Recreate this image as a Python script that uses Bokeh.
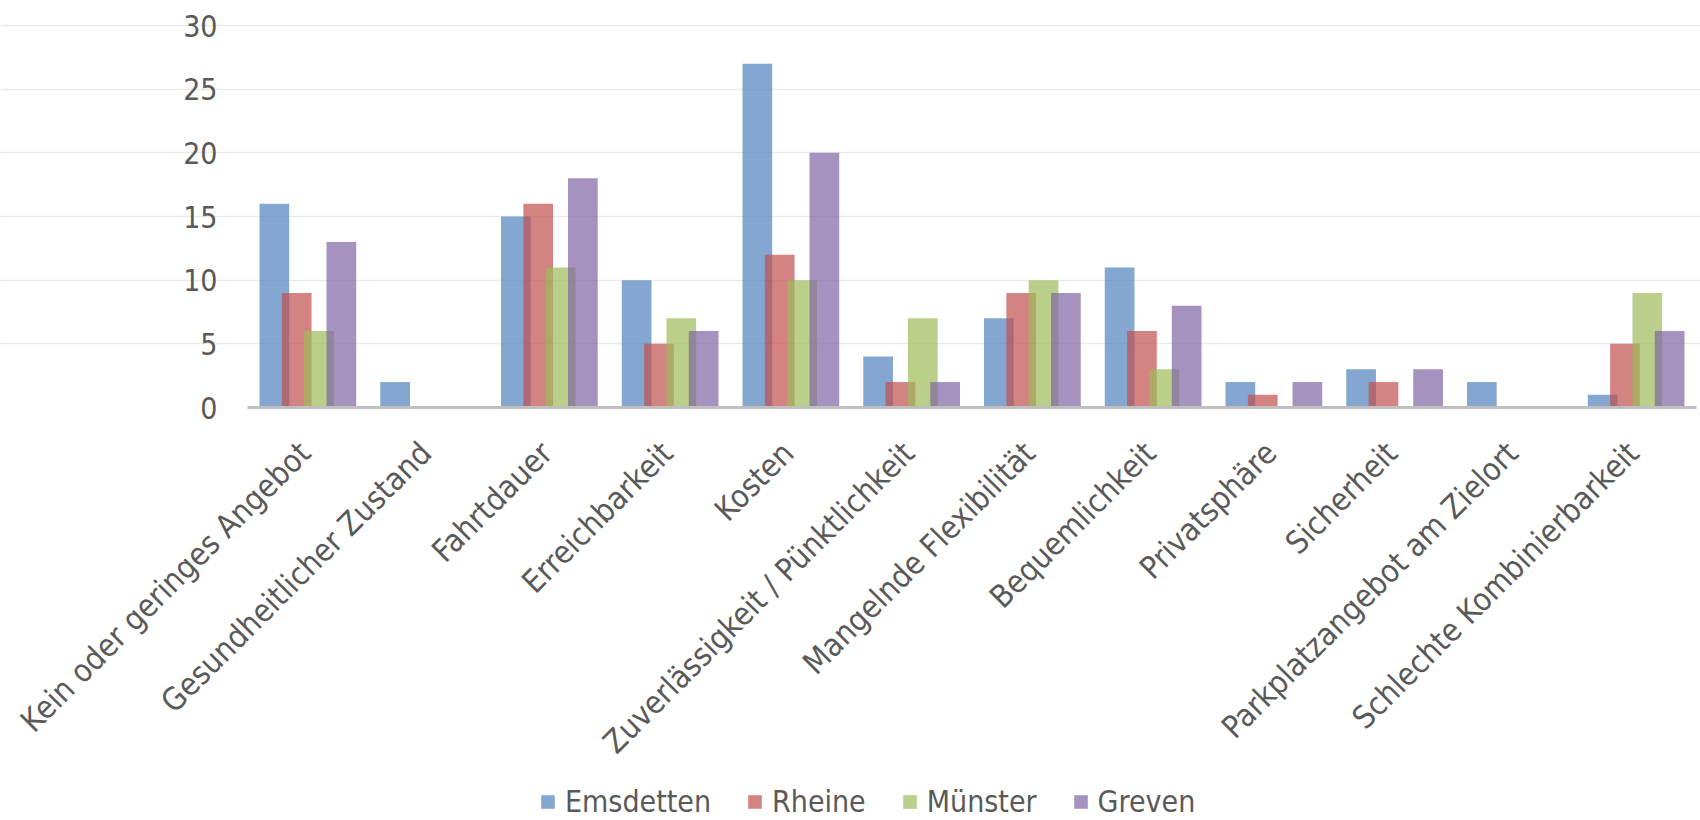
import math
from bokeh.plotting import figure
from bokeh.models import (ColumnDataSource, Range1d, FixedTicker, Legend, LegendItem,
                          LabelSet, Grid)
from bokeh.core.properties import value
from bokeh.transform import dodge
from bokeh.embed import file_html
from bokeh.resources import INLINE

categories = ["Kein oder geringes Angebot", "Gesundheitlicher Zustand", "Fahrtdauer",
              "Erreichbarkeit", "Kosten", "Zuverlässigkeit / Pünktlichkeit",
              "Mangelnde Flexibilität", "Bequemlichkeit", "Privatsphäre", "Sicherheit",
              "Parkplatzangebot am Zielort", "Schlechte Kombinierbarkeit"]
series_names = ["Emsdetten", "Rheine", "Münster", "Greven"]
emsdetten = [16, 2, 15, 10, 27, 4, 7, 11, 2, 3, 2, 1]
rheine = [9, 0, 16, 5, 12, 2, 9, 6, 1, 2, 0, 5]
muenster = [6, 0, 11, 7, 10, 7, 10, 3, 0, 0, 0, 9]
greven = [13, 0, 18, 6, 20, 2, 9, 8, 2, 3, 0, 6]
y_ticks = [0, 5, 10, 15, 20, 25, 30]

colors = ["#4F81BD", "#C0504D", "#9BBB59", "#8064A2"]
FONT = "DejaVu Sans Condensed"
TEXT = "#595959"

n = len(categories)
src = ColumnDataSource(dict(cat=categories, xc=[i + 0.5 for i in range(n)],
                            Emsdetten=emsdetten, Rheine=rheine, Muenster=muenster,
                            Greven=greven, zero=[0] * n))
tick_src = ColumnDataSource(dict(y=y_ticks, txt=[str(t) for t in y_ticks], x0=[0] * len(y_ticks)))
cols = ["Emsdetten", "Rheine", "Muenster", "Greven"]

# plot area: x 247..1696 px, y: 30 at 25 px, 0 at 407 px; the frame covers the whole
# canvas so that rotated labels, tick labels and legend are not clipped
W, H = 1700, 820
left_px, right_px, top_px, zero_px = 247, 1696, 25, 407
kx = (right_px - left_px) / n
ky = (zero_px - top_px) / 30
x_range = Range1d(-left_px / kx, n + (W - right_px) / kx)
y_range = Range1d(-(H - zero_px) / ky, 30 + top_px / ky)

p = figure(width=W, height=H, x_range=x_range, y_range=y_range, output_backend="svg",
           toolbar_location=None, x_axis_location=None, y_axis_location=None,
           min_border=0)
p.outline_line_color = None
p.background_fill_color = "white"
p.grid.visible = False

# gridlines limited to the category span
grid = Grid(dimension=1, ticker=FixedTicker(ticks=[t for t in y_ticks if t > 0]),
            bounds=(0, n), grid_line_color="#EBEBEB", grid_line_width=1.5)
p.add_layout(grid)

step = 0.185
width = 0.246
renderers = []
for i, (c, col) in enumerate(zip(cols, colors)):
    r = p.vbar(x=dodge("xc", (i - 1.5) * step), top=c, width=width,
               source=src, fill_color=col, fill_alpha=0.7, line_color=None)
    renderers.append(r)

# category axis line at zero
p.segment(x0=[0], y0=[0], x1=[n], y1=[0], line_color="#BFBFBF", line_width=3)

# value tick labels
p.add_layout(LabelSet(x="x0", y="y", text="txt", source=tick_src, x_offset=-30,
                      text_align="right", text_baseline="middle",
                      text_font=value(FONT), text_font_size=value("30px"), text_color=TEXT))

# rotated category labels
p.add_layout(LabelSet(x="xc", y="zero", text="cat", source=src, angle=math.pi / 4,
                      text_align="right", text_baseline="middle", x_offset=-3, y_offset=-40,
                      text_font=value(FONT), text_font_size=value("31.5px"), text_color=TEXT))

legend = Legend(items=[LegendItem(label=s, renderers=[r]) for s, r in zip(series_names, renderers)],
                orientation="horizontal", location=(539, 1), glyph_width=17, glyph_height=17,
                label_standoff=9, spacing=35, padding=0, margin=0, border_line_color=None,
                background_fill_alpha=0, label_text_font=FONT, label_text_font_size="30px",
                label_text_color=TEXT)
p.add_layout(legend)

open("out.html", "w").write(file_html(p, INLINE))
